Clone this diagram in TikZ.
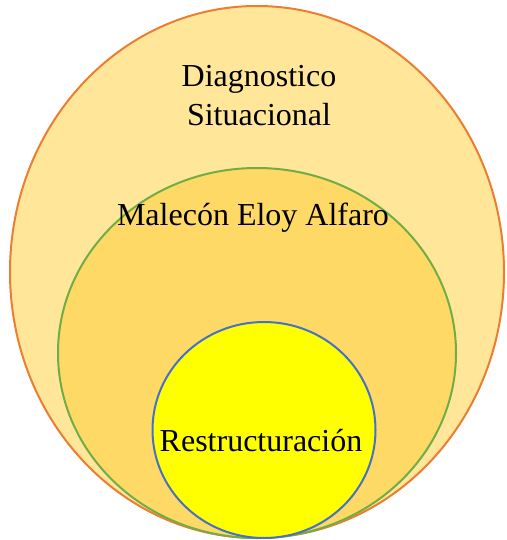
\documentclass[tikz,border=0pt]{standalone}
\usepackage{fontspec}
\setmainfont{Liberation Serif}
\usetikzlibrary{shapes.geometric,positioning}
\definecolor{ringorange}{HTML}{ED7D31}
\definecolor{ringgreen}{HTML}{70AD47}
\definecolor{ringblue}{HTML}{4472C4}
\definecolor{fillpale}{HTML}{FFE699}
\definecolor{fillgold}{HTML}{FFD966}
\definecolor{fillyellow}{HTML}{FFFF00}

\begin{document}
\begin{tikzpicture}[x=1pt, y=-1pt,
    ring/.style={ellipse, inner sep=0pt, line width=2pt},
    tag/.style={font=\fontsize{32}{39}\selectfont, align=center, inner sep=0pt}]
    \useasboundingbox (0,0) rectangle (506,540);

    \node[ring, draw=ringorange, fill=fillpale,
          minimum width=494pt, minimum height=532pt] (diag) at (257,272) {};
    \node[ring, draw=ringgreen, fill=fillgold,
          minimum width=398pt, minimum height=370pt] (male) at (257,353) {};
    \node[ring, draw=ringblue, fill=fillyellow,
          minimum width=223pt, minimum height=216pt] (rest) at (264,430) {};

    \node[tag] (diagtxt) at (259,96) {Diagnostico\\Situacional};
    \node[tag] (maletxt) at (253,218) {Malecón Eloy Alfaro};
    \node[tag] (resttxt) at (261,441) {Restructuración};
\end{tikzpicture}
\end{document}
